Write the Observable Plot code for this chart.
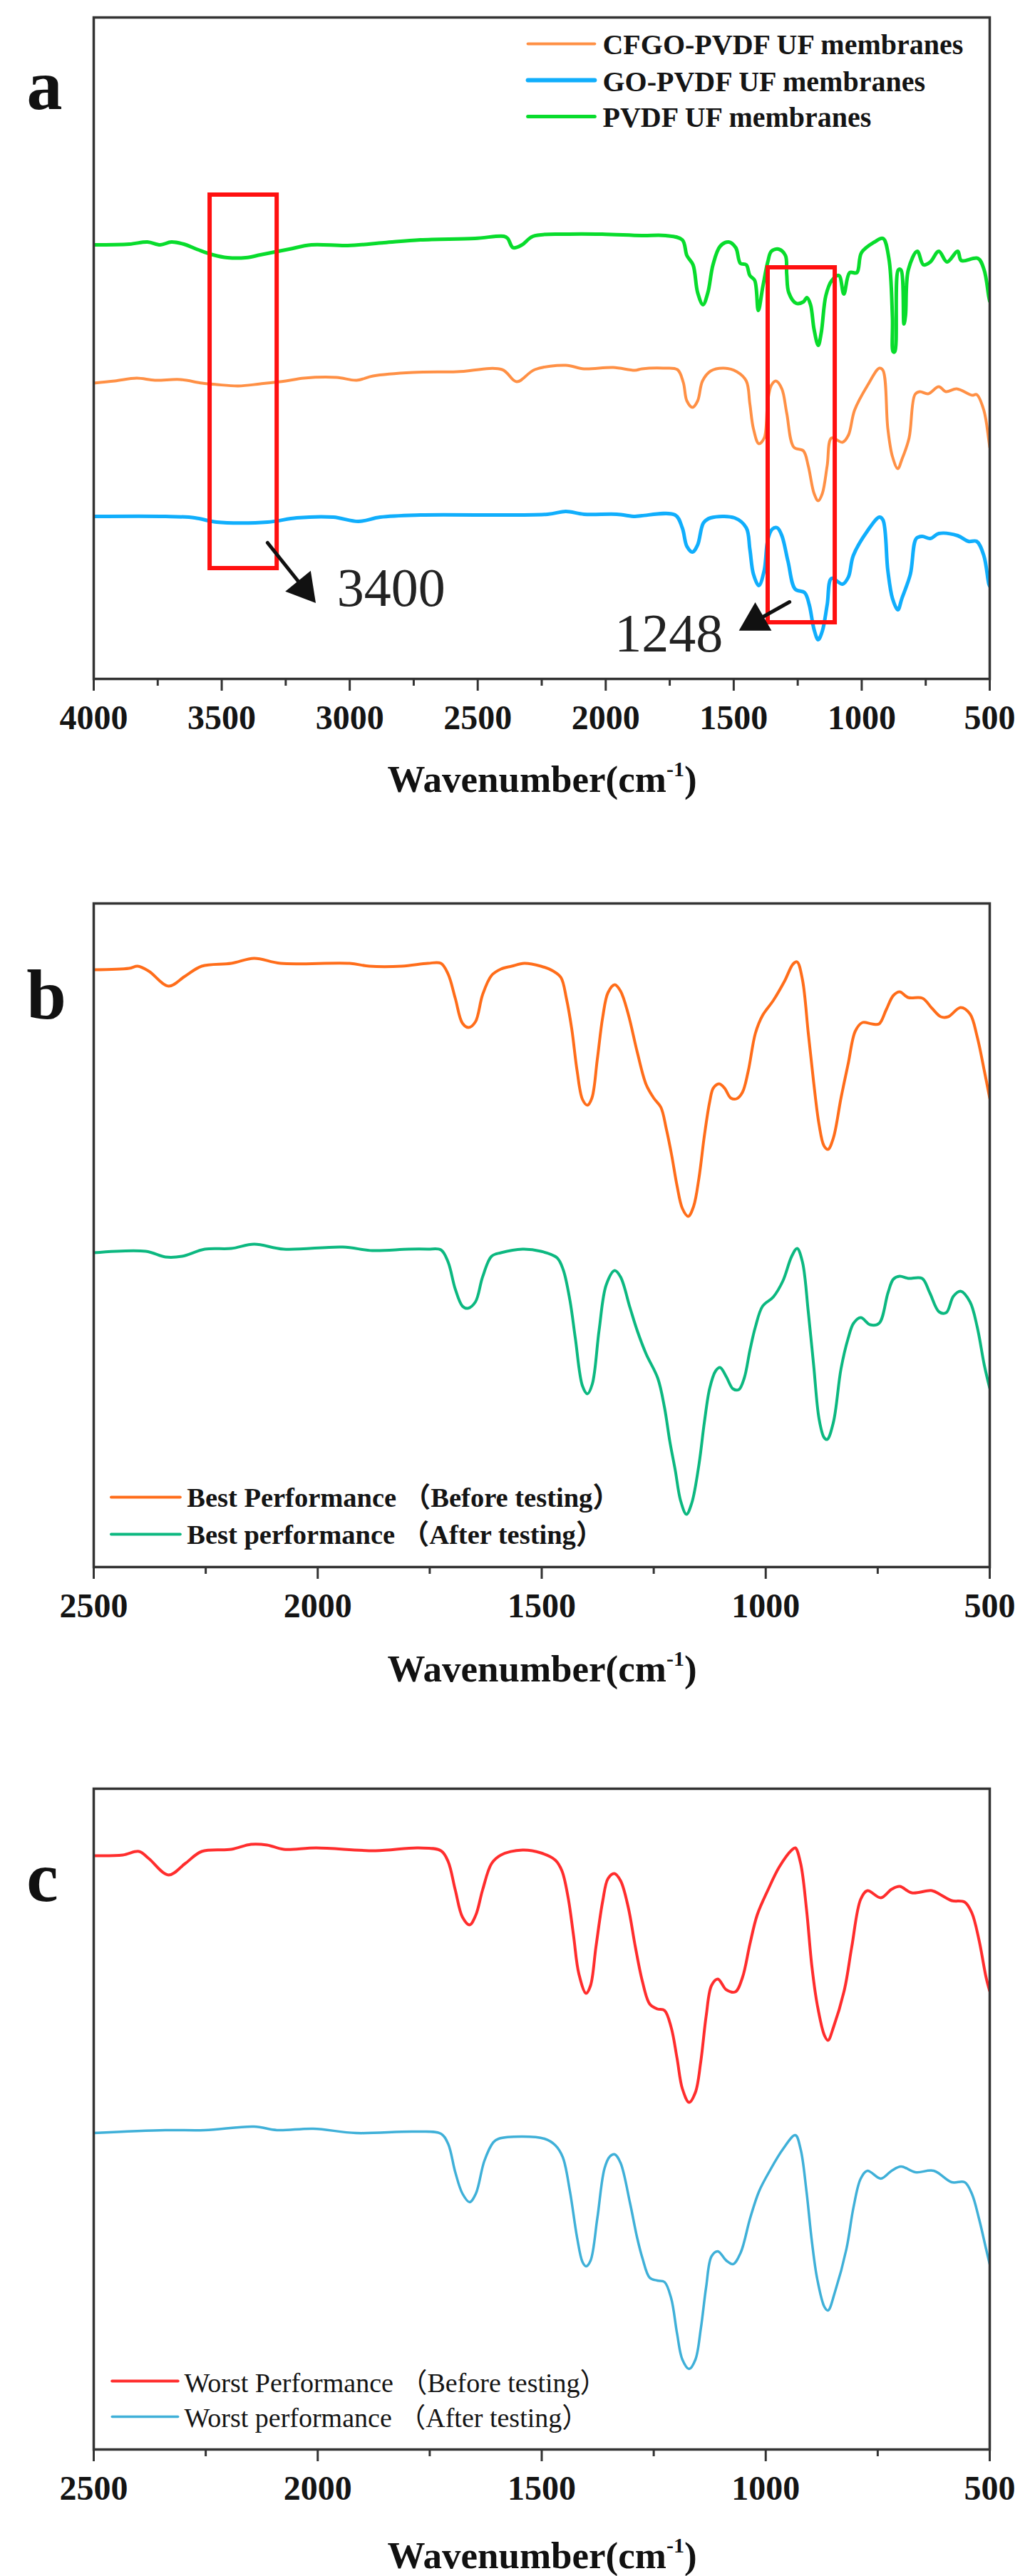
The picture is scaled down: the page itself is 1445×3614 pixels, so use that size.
<!DOCTYPE html>
<html><head><meta charset="utf-8">
<script src="https://cdn.jsdelivr.net/npm/d3@7"></script>
<script src="https://cdn.jsdelivr.net/npm/@observablehq/plot@0.6"></script>
<style>
html,body{margin:0;padding:0;background:#fff}
#page{position:relative;width:1445px;height:3614px;overflow:hidden}
.panel{position:absolute;left:0}
.panel svg{display:block;background:#fff}
.xtitle{position:absolute;left:0;width:1521px;text-align:center;font:bold 53px/60px "Liberation Serif",serif;color:#111}
.xtitle sup{font-size:30px;line-height:0;vertical-align:baseline;position:relative;top:-22px}
</style></head><body><div id="page"></div>
<script>
// Wavenumber (cm-1), offset transmittance (a.u.)
const pvdf = [[4000,609],[3861,610],[3790,613],[3740,609],[3697,613],[3648,610],[3591,602],[3534,595],[3477,591],[3406,591],[3349,595],[3293,599],[3236,603],[3150,609],[3008,608],[2866,612],[2724,616],[2511,618],[2398,621],[2383,618],[2362,605],[2327,609],[2284,621],[2156,624],[2014,624],[1859,622],[1766,622],[1701,616],[1683,594],[1659,581],[1641,542],[1620,525],[1601,542],[1581,581],[1553,607],[1520,613],[1492,605],[1474,583],[1451,581],[1437,566],[1418,559],[1404,517],[1386,551],[1367,585],[1353,600],[1325,603],[1298,594],[1293,568],[1285,542],[1256,527],[1228,529],[1214,535],[1200,525],[1186,490],[1170,468],[1158,486],[1140,538],[1117,559],[1089,566],[1070,540],[1047,570],[1019,570],[1001,598],[950,613],[917,618],[894,590],[880,507],[877,459],[871,459],[857,574],[847,574],[835,498],[829,510],[818,574],[783,600],[759,581],[732,585],[699,600],[667,585],[625,600],[611,587],[546,590],[522,574],[504,537],[500,530]];
const cfgo = [[4000,415],[3918,418],[3832,422],[3761,419],[3662,420],[3577,415],[3520,413],[3435,411],[3349,414],[3250,418],[3179,422],[3051,423],[2973,419],[2909,425],[2753,430],[2582,431],[2405,434],[2348,417],[2277,434],[2156,440],[2085,435],[1971,437],[1886,433],[1859,435],[1775,436],[1720,434],[1697,416],[1683,390],[1661,381],[1641,390],[1622,418],[1590,432],[1539,436],[1488,431],[1451,418],[1437,386],[1423,351],[1402,330],[1381,338],[1367,390],[1353,412],[1335,418],[1312,407],[1293,373],[1265,325],[1228,320],[1209,299],[1186,260],[1170,250],[1154,260],[1135,299],[1118,338],[1075,332],[1052,342],[1028,377],[977,412],[931,436],[917,433],[898,351],[880,312],[859,295],[843,308],[815,338],[792,399],[773,403],[741,400],[699,410],[671,403],[629,407],[569,398],[551,399],[523,377],[504,336],[500,325]];
const go = [[4000,228],[3719,228],[3605,226],[3520,220],[3321,220],[3207,226],[3065,227],[2966,221],[2881,227],[2724,230],[2227,231],[2156,235],[2085,231],[1957,231],[1886,228],[1859,229],[1729,230],[1701,212],[1683,186],[1661,178],[1641,188],[1618,219],[1590,226],[1497,226],[1451,212],[1437,182],[1423,147],[1402,131],[1381,152],[1367,195],[1350,210],[1330,212],[1312,201],[1288,165],[1260,126],[1223,121],[1205,104],[1186,69],[1170,55],[1154,67],[1135,104],[1118,141],[1075,133],[1052,143],[1033,173],[977,208],[931,227],[917,223],[898,152],[880,113],[859,97],[843,113],[810,147],[787,197],[764,200],[732,197],[699,204],[625,201],[583,193],[551,193],[523,173],[504,134],[500,130]];
const bestBefore = [[2500,838],[2421,840],[2402,843],[2377,836],[2333,815],[2296,829],[2259,843],[2193,847],[2142,854],[2083,847],[1929,847],[1885,843],[1812,843],[1754,847],[1725,847],[1709,832],[1693,798],[1677,763],[1663,757],[1648,765],[1632,803],[1612,830],[1591,839],[1567,843],[1539,847],[1502,843],[1474,836],[1457,827],[1445,798],[1433,755],[1421,696],[1409,656],[1398,648],[1388,658],[1376,712],[1364,771],[1352,806],[1337,817],[1324,808],[1307,776],[1287,723],[1267,677],[1250,658],[1234,645],[1222,615],[1210,578],[1198,535],[1186,503],[1173,492],[1161,506],[1149,546],[1137,605],[1125,653],[1117,672],[1104,678],[1092,672],[1078,658],[1065,657],[1052,666],[1039,696],[1023,749],[1007,774],[983,795],[958,822],[939,846],[930,849],[918,824],[905,749],[893,680],[881,621],[870,591],[861,586],[849,602],[832,658],[816,706],[800,752],[784,764],[763,762],[747,762],[731,782],[715,802],[701,807],[682,799],[650,798],[629,784],[609,772],[593,772],[565,785],[544,776],[528,744],[512,696],[500,658]];
const bestAfter = [[2500,441],[2384,443],[2340,435],[2303,436],[2252,446],[2193,447],[2142,453],[2076,446],[1944,449],[1878,444],[1797,446],[1754,446],[1725,445],[1709,428],[1693,390],[1677,366],[1665,363],[1648,372],[1632,407],[1612,436],[1591,441],[1543,446],[1502,443],[1466,434],[1452,417],[1437,374],[1425,321],[1409,254],[1398,243],[1387,257],[1372,332],[1356,396],[1337,416],[1324,407],[1303,364],[1287,332],[1267,299],[1241,265],[1226,224],[1214,176],[1202,136],[1190,93],[1177,74],[1165,90],[1149,144],[1137,203],[1125,251],[1112,275],[1102,280],[1088,267],[1073,250],[1060,249],[1048,265],[1035,305],[1023,337],[1007,366],[983,379],[962,401],[942,436],[930,447],[918,428],[905,358],[893,283],[881,208],[870,182],[863,179],[849,203],[832,278],[816,321],[804,342],[788,350],[767,340],[747,342],[727,385],[715,404],[701,408],[682,405],[651,405],[634,385],[613,358],[597,357],[581,380],[565,387],[544,372],[528,337],[512,283],[500,251]];
const worstBefore = [[2500,833],[2435,834],[2399,839],[2377,829],[2333,806],[2296,822],[2259,839],[2193,842],[2149,849],[2113,848],[2076,842],[2003,844],[1871,840],[1775,844],[1725,840],[1709,825],[1693,785],[1677,747],[1661,736],[1647,750],[1632,785],[1612,822],[1591,834],[1543,841],[1502,837],[1470,827],[1455,812],[1441,774],[1429,721],[1417,667],[1401,640],[1391,651],[1379,705],[1364,769],[1352,801],[1338,808],[1324,798],[1307,761],[1291,705],[1275,656],[1259,625],[1242,618],[1226,616],[1211,592],[1198,549],[1186,506],[1171,487],[1157,501],[1145,544],[1133,608],[1121,651],[1107,660],[1088,645],[1068,642],[1052,662],[1035,710],[1019,750],[995,785],[970,817],[942,841],[934,844],[922,822],[909,758],[897,678],[885,624],[869,581],[861,574],[849,592],[824,646],[808,705],[788,772],[773,784],[743,774],[719,786],[701,790],[674,781],[629,784],[609,778],[585,770],[556,768],[540,753],[524,715],[508,662],[500,643]];
const worstAfter = [[2500,444],[2340,448],[2252,448],[2142,453],[2091,448],[2010,450],[1915,444],[1783,446],[1725,443],[1709,429],[1693,389],[1677,359],[1661,347],[1647,359],[1628,405],[1608,431],[1596,436],[1543,439],[1494,436],[1470,427],[1453,410],[1437,362],[1421,297],[1409,263],[1401,257],[1391,265],[1376,324],[1360,394],[1348,411],[1337,414],[1324,402],[1303,346],[1287,297],[1275,268],[1259,241],[1242,237],[1226,235],[1211,212],[1198,163],[1186,126],[1171,113],[1157,126],[1145,169],[1133,228],[1121,271],[1107,278],[1088,265],[1073,260],[1056,276],[1035,324],[1015,362],[991,391],[962,421],[934,441],[922,421],[909,362],[897,292],[885,239],[869,200],[861,195],[845,222],[820,281],[804,340],[788,380],[773,391],[743,380],[719,391],[698,397],[666,389],[625,391],[585,375],[556,375],[540,359],[524,324],[508,281],[500,260]];

const majorA = [4000,3500,3000,2500,2000,1500,1000,500];
const minorA = [3750,3250,2750,2250,1750,1250,750];
const majorBC = [2500,2000,1500,1000,500];
const minorBC = [2250,1750,1250,750];

const legendA = [
  {name:"CFGO-PVDF UF membranes", color:"#ff9045", width:4, y:891, baseline:877},
  {name:"GO-PVDF UF membranes", color:"#10aefc", width:6, y:840, baseline:825},
  {name:"PVDF UF membranes", color:"#08dc2c", width:5, y:789, baseline:775}
];
const legendB = [
  {name:"Best Performance （Before testing）", color:"#ff6d1a", width:4, y:98, baseline:85},
  {name:"Best performance （After testing）", color:"#0cb880", width:4, y:46, baseline:33}
];
const legendC = [
  {name:"Worst Performance （Before testing）", color:"#ff2d2d", width:4, y:96, baseline:81},
  {name:"Worst performance （After testing）", color:"#3fb0d8", width:3.5, y:46, baseline:32}
];
const redBoxes = [{w1:3546,w2:3284,v1:155,v2:679},{w1:1366,w2:1104,v1:79,v2:577}];
const arrowShafts = [[[3321,191],[3179,127]],[[1282,108],[1416,81]]];
const arrowHeads = [{w:3179,v:127,angle:141},{w:1416,v:81,angle:-120}];
const peakLabels = [{text:"3400",w:3050,v:103},{text:"1248",w:1965,v:39}];

const serif = '"Liberation Serif","Noto Sans CJK SC",serif';
const page = document.getElementById("page");

function curve(data, color, width){
  return Plot.line(data,{x:d=>d[0],y:d=>d[1],stroke:color,strokeWidth:width,curve:"catmull-rom",clip:true});
}
function legendMarks(items, w1, w2, wText, size, weight){
  return items.flatMap(it=>[
    Plot.line([[w1,it.y],[w2,it.y]],{x:d=>d[0],y:d=>d[1],stroke:it.color,strokeWidth:it.width}),
    Plot.text([it],{x:()=>wText,y:"baseline",text:"name",textAnchor:"start",lineAnchor:"bottom",fontFamily:serif,fontSize:size,fontWeight:weight,fill:"#141414"})
  ]);
}
function panel({top,frameTop,frameBottom,domain,major,minor,letter,letterW,letterV,marks,titleBaseline}){
  const H = frameBottom-frameTop;
  const svgH = H+frameTop+110;
  const fig = Plot.plot({
    width:1445,height:svgH,
    marginLeft:131,marginRight:57,marginTop:frameTop,marginBottom:110,
    style:{background:"#fff",overflow:"visible"},
    x:{domain,label:null},
    y:{domain:[0,H],axis:null},
    marks:[
      ...marks,
      Plot.frame({stroke:"#333",strokeWidth:3.5}),
      Plot.axisX({ticks:major,tickSize:17,tickPadding:19,strokeWidth:3,stroke:"#333",fill:"#141414",fontSize:48,fontWeight:"bold",fontFamily:serif,tickFormat:"d",label:null}),
      Plot.axisX({ticks:minor,tickSize:10,strokeWidth:3,stroke:"#333",tickFormat:()=>"",label:null}),
      Plot.text([letter],{x:()=>letterW,y:()=>letterV,text:d=>d,textAnchor:"start",lineAnchor:"bottom",fontFamily:serif,fontSize:100,fontWeight:"bold",fill:"#111"})
    ]
  });
  const wrap=document.createElement("div");
  wrap.className="panel";wrap.style.top=top+"px";
  wrap.appendChild(fig);page.appendChild(wrap);
  const t=document.createElement("div");
  t.className="xtitle";t.style.top=(titleBaseline-45)+"px";
  t.innerHTML='Wavenumber(cm<sup>-1</sup>)';
  page.appendChild(t);
}

panel({top:0,frameTop:24,frameBottom:952,domain:[4000,500],major:majorA,minor:minorA,letter:"a",letterW:4262,letterV:800,titleBaseline:1108,marks:[
  curve(pvdf,"#08dc2c",5),
  curve(cfgo,"#ff9045",4),
  curve(go,"#10aefc",5),
  ...legendMarks(legendA,2304,2043,2012,40,"bold"),
  Plot.rect(redBoxes,{x1:"w1",x2:"w2",y1:"v1",y2:"v2",stroke:"#ff1010",strokeWidth:6,fill:"none"}),
  ...arrowShafts.map(s=>Plot.line(s,{x:d=>d[0],y:d=>d[1],stroke:"#111",strokeWidth:5})),
  Plot.dot(arrowHeads,{x:"w",y:"v",r:17,rotate:"angle",symbol:"triangle",fill:"#111",stroke:"none"}),
  Plot.text(peakLabels,{x:"w",y:"v",text:"text",textAnchor:"start",lineAnchor:"bottom",fontFamily:serif,fontSize:76,fill:"#222"})
]});
panel({top:1267-24,frameTop:24,frameBottom:24+931,domain:[2500,500],major:majorBC,minor:minorBC,letter:"b",letterW:2650,letterV:770,titleBaseline:2356,marks:[
  curve(bestBefore,"#ff6d1a",4),
  curve(bestAfter,"#0cb880",4),
  ...legendMarks(legendB,2461,2307,2292,38.5,"bold")
]});
panel({top:2509-24,frameTop:24,frameBottom:24+927,domain:[2500,500],major:majorBC,minor:minorBC,letter:"c",letterW:2650,letterV:770,titleBaseline:3600,marks:[
  curve(worstBefore,"#ff2d2d",4),
  curve(worstAfter,"#3fb0d8",3.5),
  ...legendMarks(legendC,2459,2312,2298,38,"normal")
]});
</script></body></html>
